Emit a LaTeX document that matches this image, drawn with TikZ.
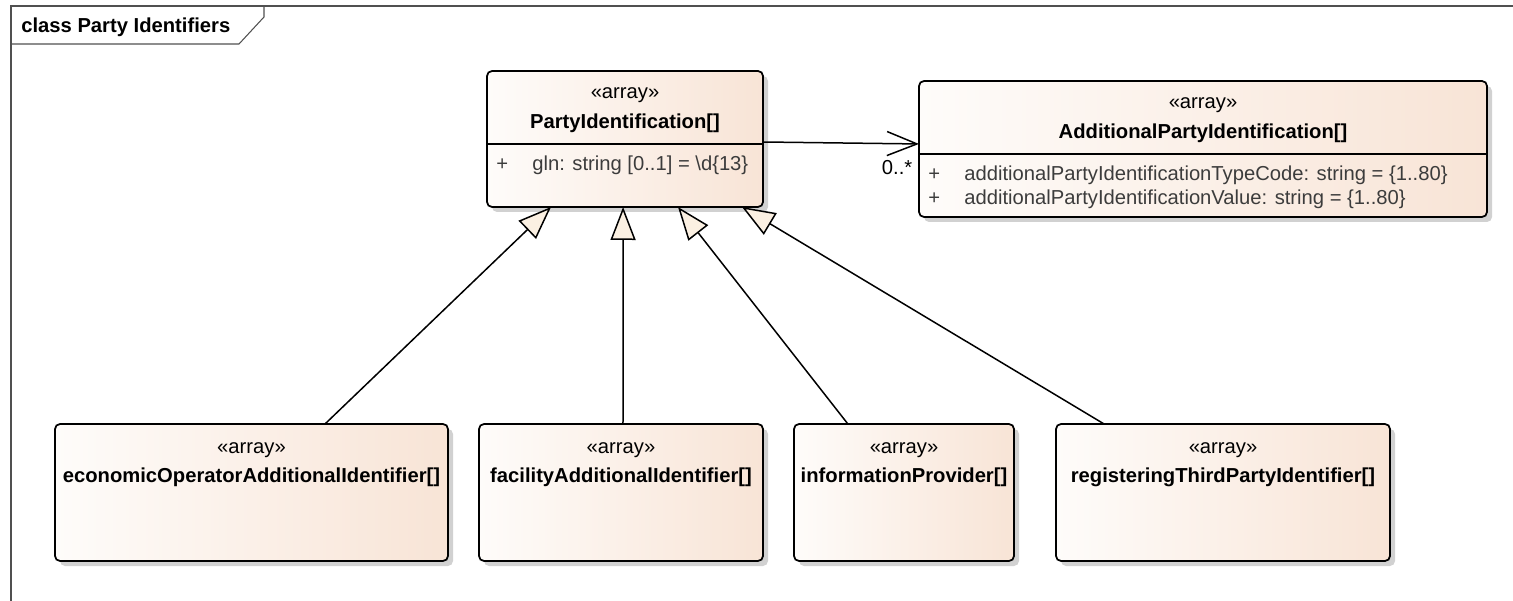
\documentclass[tikz,border=0pt]{standalone}
\usepackage{fontspec}
\setmainfont{Liberation Sans}
\usetikzlibrary{arrows.meta, positioning, calc, shadows}
\definecolor{classleft}{RGB}{254,252,250}
\definecolor{classright}{RGB}{248,228,214}
\definecolor{genfill}{RGB}{251,240,226}
\definecolor{framegray}{RGB}{80,80,80}
\definecolor{attrgray}{RGB}{60,60,60}
\tikzstyle{classbox}   = [rectangle, rounded corners=0.1cm, draw=black, line width=0.035cm,
                          left color=classleft, right color=classright, outer sep=0pt, inner sep=0pt,
                          drop shadow={shadow xshift=0.1cm, shadow yshift=-0.1cm, fill=black!18, opacity=1}]
\tikzstyle{stereo}     = [anchor=base, inner sep=0pt, font=\fontsize{11.5}{14}\selectfont]
\tikzstyle{classname}  = [anchor=base, inner sep=0pt, font=\fontsize{11.5}{14}\selectfont\bfseries]
\tikzstyle{attr}       = [anchor=base west, inner sep=0pt, text=attrgray, font=\fontsize{11.5}{14}\selectfont]
\tikzstyle{divider}    = [line width=0.03cm]
\tikzstyle{generalize} = [line width=0.03cm, -{Triangle[length=0.66cm, width=0.5cm, fill=genfill]}]
\tikzstyle{assoc}      = [line width=0.03cm, -{Straight Barb[length=0.6cm, width=0.48cm]}]

\begin{document}
\begin{tikzpicture}
  \useasboundingbox (0,0) rectangle (30.26,-12.02);

  % Frame
  \draw[framegray, line width=0.6pt] (0.22,-12.02) -- (0.22,-0.12) -- (30.26,-0.12);
  \draw[framegray, line width=0.6pt] (0.22,-0.88) -- (4.78,-0.88) -- (5.28,-0.34) -- (5.28,-0.12);
  \node[classname, anchor=base west] (frame-title) at (0.42,-0.66) {class Party Identifiers};

  % Top classes
  \node (party) [classbox, minimum width=5.52cm, minimum height=2.72cm] at (12.5,-2.78) {};
  \node (addl)  [classbox, minimum width=11.36cm, minimum height=2.72cm] at (24.06,-2.98) {};

  \node (party-st) [stereo]    at ($(party.north)+(0,-0.56)$) {«array»};
  \node (party-nm) [classname] at ($(party.north)+(0,-1.16)$) {PartyIdentification[]};
  \draw[divider] ($(party.north west)+(0,-1.46)$) -- ($(party.north east)+(0,-1.46)$);
  \node (party-p1) [attr] at ($(party.north west)+(0.18,-2.0)$) {+};
  \node (party-a1) [attr] at ($(party.north west)+(0.9,-2.0)$) {gln: string [0..1] = \textbackslash d\{13\}};

  \node (addl-st) [stereo]    at ($(addl.north)+(0,-0.56)$) {«array»};
  \node (addl-nm) [classname] at ($(addl.north)+(0,-1.16)$) {AdditionalPartyIdentification[]};
  \draw[divider] ($(addl.north west)+(0,-1.46)$) -- ($(addl.north east)+(0,-1.46)$);
  \node (addl-p1) [attr] at ($(addl.north west)+(0.18,-2.0)$) {+};
  \node (addl-a1) [attr] at ($(addl.north west)+(0.9,-2.0)$) {additionalPartyIdentificationTypeCode: string = \{1..80\}};
  \node (addl-p2) [attr] at ($(addl.north west)+(0.18,-2.48)$) {+};
  \node (addl-a2) [attr] at ($(addl.north west)+(0.9,-2.48)$) {additionalPartyIdentificationValue: string = \{1..80\}};

  % Bottom classes
  \node (eco)  [classbox, minimum width=7.86cm, minimum height=2.74cm] at (5.03,-9.85) {};
  \node (fac)  [classbox, minimum width=5.68cm, minimum height=2.74cm, right=0.62cm of eco] {};
  \node (info) [classbox, minimum width=4.4cm,  minimum height=2.74cm, right=0.62cm of fac] {};
  \node (reg)  [classbox, minimum width=6.68cm, minimum height=2.74cm, right=0.84cm of info] {};

  \node (eco-st)  [stereo]    at ($(eco.north)+(0,-0.58)$)  {«array»};
  \node (eco-nm)  [classname] at ($(eco.north)+(0,-1.17)$)  {economicOperatorAdditionalIdentifier[]};
  \node (fac-st)  [stereo]    at ($(fac.north)+(0,-0.58)$)  {«array»};
  \node (fac-nm)  [classname] at ($(fac.north)+(0,-1.17)$)  {facilityAdditionalIdentifier[]};
  \node (info-st) [stereo]    at ($(info.north)+(0,-0.58)$) {«array»};
  \node (info-nm) [classname] at ($(info.north)+(0,-1.17)$) {informationProvider[]};
  \node (reg-st)  [stereo]    at ($(reg.north)+(0,-0.58)$)  {«array»};
  \node (reg-nm)  [classname] at ($(reg.north)+(0,-1.17)$)  {registeringThirdPartyIdentifier[]};

  % Association
  \draw[assoc] ($(party.north east)!0.522!(party.south east)$) -- ($(addl.north west)!0.463!(addl.south west)$)
    node[pos=1, anchor=north east, xshift=-0.12cm, yshift=-0.32cm, inner sep=0pt,
         font=\fontsize{11.5}{14}\selectfont] (mult) {0..*};

  % Generalizations
  \draw[generalize] ($(eco.north west)!0.687!(eco.north east)$)   -- ($(party.south west)!0.232!(party.south east)$);
  \draw[generalize] ($(fac.north west)!0.507!(fac.north east)$)   -- ($(party.south west)!0.493!(party.south east)$);
  \draw[generalize] ($(info.north west)!0.245!(info.north east)$) -- ($(party.south west)!0.692!(party.south east)$);
  \draw[generalize] ($(reg.north west)!0.144!(reg.north east)$)   -- ($(party.south west)!0.924!(party.south east)$);

\end{tikzpicture}
\end{document}
